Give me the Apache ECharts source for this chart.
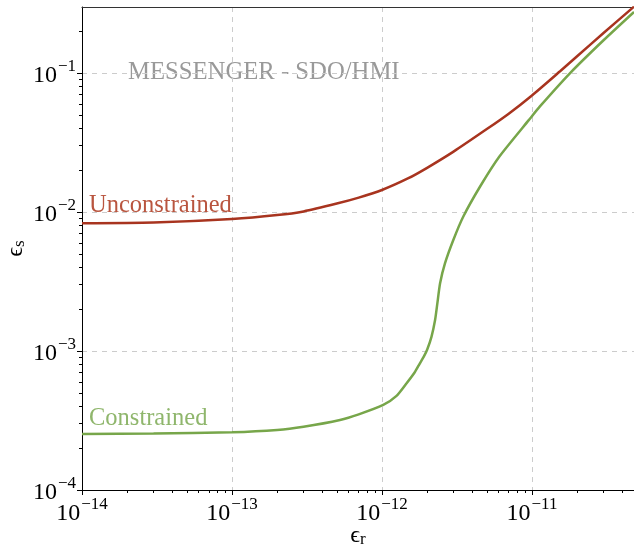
<!DOCTYPE html>
<html>
<head>
<meta charset="utf-8">
<script src="https://cdn.jsdelivr.net/npm/echarts@6/dist/echarts.min.js"></script>
<style>
  html, body { margin: 0; padding: 0; background: #fff; }
  #chart { width: 634px; height: 548px; }
</style>
</head>
<body>
<div id="chart"></div>
<script>
// values
var xUnconstrained = [1e-14, 3e-14, 1e-13, 2e-13, 3e-13, 5e-13, 7e-13, 1e-12, 1.5e-12, 2e-12, 3e-12, 5e-12, 7e-12, 1e-11, 1.54e-11, 2e-11, 3e-11, 4.79e-11];
var yUnconstrained = [0.0083, 0.0084, 0.0089, 0.0095, 0.0101, 0.0115, 0.0127, 0.0144, 0.0175, 0.0208, 0.0272, 0.0395, 0.051, 0.069, 0.103, 0.132, 0.194, 0.30];

var xConstrained = [1e-14, 3e-14, 1e-13, 2e-13, 3e-13, 5.25e-13, 7e-13, 1.02e-12, 1.25e-12, 1.46e-12, 1.65e-12, 1.79e-12, 1.9e-12, 2.0e-12, 2.14e-12, 2.26e-12, 2.34e-12, 2.44e-12, 2.63e-12, 2.99e-12, 3.48e-12, 4.5e-12, 6.05e-12, 9.55e-12, 1.13e-11, 1.79e-11, 3e-11, 4.79e-11];
var yConstrained = [2.53e-4, 2.55e-4, 2.6e-4, 2.7e-4, 2.85e-4, 3.19e-4, 3.5e-4, 4.09e-4, 4.75e-4, 5.86e-4, 7.0e-4, 8.16e-4, 9.1e-4, 1.02e-3, 1.27e-3, 1.67e-3, 2.2e-3, 3.07e-3, 4.27e-3, 6.29e-3, 9.25e-3, 1.52e-2, 2.5e-2, 4.6e-2, 5.75e-2, 0.0995, 0.172, 0.275];

var xMin = 1e-14, xMax = 4.79e-11;
var yMin = 1e-4, yMax = 0.2985;
var xMajor = [1e-14, 1e-13, 1e-12, 1e-11];
var yMajor = [1e-4, 1e-3, 1e-2, 1e-1];

function minorTicks(lo, hi) {
    var r = [];
    for (var e = Math.floor(Math.log10(lo)); e <= Math.ceil(Math.log10(hi)); e++) {
        for (var k = 2; k <= 9; k++) {
            var v = k * Math.pow(10, e);
            if (v > lo && v < hi) r.push(v);
        }
    }
    return r;
}

function pairs(xs, ys) {
    return xs.map(function (x, i) { return [x, ys[i]]; });
}

var serif = "'Liberation Serif', 'DejaVu Serif', serif";
var rich = {
    b: { fontFamily: serif, fontSize: 24, color: '#000', lineHeight: 30, verticalAlign: 'bottom' },
    s: { fontFamily: serif, fontSize: 17, color: '#000', lineHeight: 30, verticalAlign: 'top', padding: [0, 0, 0, 1] }
};
var nameRich = {
    e: { fontFamily: serif, fontSize: 24, color: '#000', lineHeight: 24, verticalAlign: 'top', padding: [0, 0, 4, 0] },
    r: { fontFamily: serif, fontSize: 17, color: '#000', lineHeight: 17, verticalAlign: 'bottom' }
};
function powLabel(v) {
    var e = Math.round(Math.log10(v));
    return '{b|10}{s|' + (e < 0 ? '\u2212' : '') + Math.abs(e) + '}';
}

var chart = echarts.init(document.getElementById('chart'));
chart.setOption({
    animation: false,
    backgroundColor: '#fff',
    grid: { left: 82, right: 0, top: 7, bottom: 58, containLabel: false, outerBoundsMode: 'none' },
    xAxis: [{
        type: 'log', min: xMin, max: xMax, position: 'bottom',
        axisLine: { show: true, lineStyle: { color: '#000', width: 1 } },
        axisTick: { show: true, inside: false, length: 5, customValues: xMajor, lineStyle: { color: '#000', width: 1 } },
        axisLabel: { customValues: xMajor, formatter: powLabel, rich: rich, margin: 6 },
        splitLine: { show: true, lineStyle: { color: '#cccccc', type: [5, 5], width: 1 } },
        name: '{e|\u03f5}{r|r}', nameLocation: 'middle', nameGap: 34, nameMoveOverlap: false,
        nameTextStyle: { rich: nameRich }
    }, {
        type: 'log', min: xMin, max: xMax, position: 'bottom',
        axisLine: { show: false },
        axisTick: { show: true, inside: false, length: 3, customValues: minorTicks(xMin, xMax), lineStyle: { color: '#000', width: 1 } },
        axisLabel: { show: false },
        splitLine: { show: false }
    }, {
        type: 'log', min: xMin, max: xMax, position: 'top',
        axisLine: { show: true, lineStyle: { color: '#333', width: 1.2 } },
        axisTick: { show: false }, axisLabel: { show: false }, splitLine: { show: false }
    }],
    yAxis: [{
        type: 'log', min: yMin, max: yMax, position: 'left',
        axisLine: { show: true, lineStyle: { color: '#000', width: 1 } },
        axisTick: { show: true, inside: false, length: 5, customValues: yMajor, lineStyle: { color: '#000', width: 1 } },
        axisLabel: { customValues: yMajor, formatter: powLabel, rich: rich, margin: 6 },
        splitLine: { show: true, lineStyle: { color: '#cccccc', type: [5, 5], width: 1 } },
        name: '{e|\u03f5}{r|s}', nameLocation: 'middle', nameGap: 54, nameRotate: 90, nameMoveOverlap: false,
        nameTextStyle: { rich: nameRich }
    }, {
        type: 'log', min: yMin, max: yMax, position: 'left',
        axisLine: { show: false },
        axisTick: { show: true, inside: false, length: 3, customValues: minorTicks(yMin, yMax), lineStyle: { color: '#000', width: 1 } },
        axisLabel: { show: false },
        splitLine: { show: false }
    }],
    series: [{
        type: 'line', name: 'Unconstrained',
        data: pairs(xUnconstrained, yUnconstrained),
        smooth: 0.25, showSymbol: false,
        lineStyle: { color: '#a8341f', width: 2.5 }
    }, {
        type: 'line', name: 'Constrained',
        data: pairs(xConstrained, yConstrained),
        smooth: 0.2, showSymbol: false,
        lineStyle: { color: '#77a64a', width: 2.5 }
    }],
    graphic: [
        { type: 'text', left: 128, top: 60, style: { text: 'MESSENGER - SDO/HMI', fontFamily: serif, fontSize: 24.7, fill: '#999' } },
        { type: 'text', left: 89, top: 193, style: { text: 'Unconstrained', fontFamily: serif, fontSize: 24.5, fill: '#b9553f' } },
        { type: 'text', left: 89, top: 406, style: { text: 'Constrained', fontFamily: serif, fontSize: 24.5, fill: '#8fb66c' } }
    ]
});
</script>
</body>
</html>
